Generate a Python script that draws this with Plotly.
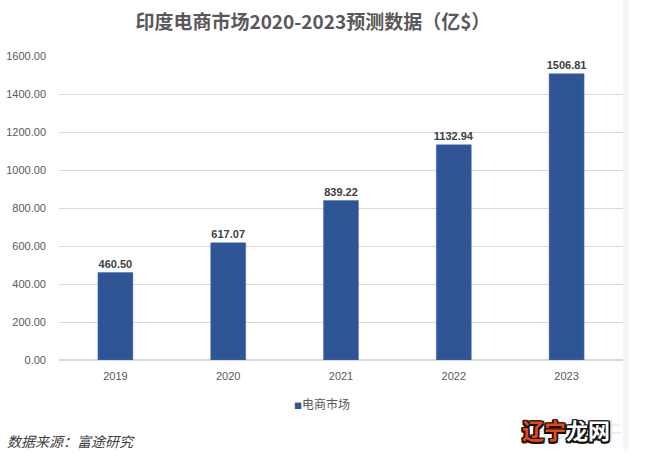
import plotly.graph_objects as go

years = ["2019", "2020", "2021", "2022", "2023"]
values = [460.50, 617.07, 839.22, 1132.94, 1506.81]
series_name = "电商市场"
title_text = "印度电商市场2020-2023预测数据（亿$）"
source_text = "数据来源：富途研究"
watermark_red = "辽宁"
watermark_white = "龙网"
watermark_faint = "富途牛牛"

font_cn = "Noto Sans CJK SC, Microsoft YaHei, sans-serif"
font_num = "Liberation Sans, Arial, sans-serif"
bar_color = "#2F5597"

fig = go.Figure()
fig.add_trace(go.Bar(
    x=years, y=values, name=series_name,
    marker=dict(color=bar_color, line=dict(color="#4a6fae", width=0.5)),
    text=[f"{v:.2f}" for v in values],
    textposition="outside",
    constraintext="none",
    textfont=dict(family=font_num, size=11, color="#404040", weight="bold"),
    cliponaxis=False,
    showlegend=False,
))

fig.update_layout(
    width=656, height=463,
    margin=dict(l=59, r=33, t=55.5, b=103),
    paper_bgcolor="white", plot_bgcolor="white",
    bargap=0.69,
    title=dict(text=title_text, x=0.477, xanchor="center", y=0.952, yanchor="middle",
               font=dict(family=font_cn, size=19, color="#595959", weight="bold")),
    xaxis=dict(showgrid=False, showline=False, ticks="", ticklabelstandoff=8, automargin=False,
               tickfont=dict(family=font_num, size=11, color="#595959")),
    yaxis=dict(range=[0, 1600], dtick=200, tickformat=".2f", showgrid=True, automargin=False,
               gridcolor="#d9d9d9", gridwidth=1, zeroline=True, zerolinecolor="#d9d9d9",
               ticks="", ticklabelstandoff=12,
               tickfont=dict(family=font_num, size=11, color="#595959")),
    showlegend=False,
    font=dict(family=font_cn),
)

# legend (drawn as text so the swatch can sit tight against the label)
fig.add_annotation(
    text=f"<span style='font-size:8px;color:{bar_color}'>■</span>{series_name}",
    xref="paper", yref="paper", x=0.466, xanchor="center", y=-0.1445, yanchor="middle",
    showarrow=False, font=dict(family=font_cn, size=12, color="#595959"))

fig.add_annotation(text=source_text, xref="paper", yref="paper", x=-0.0957, xanchor="left",
                   y=-0.266, yanchor="middle", showarrow=False,
                   font=dict(family=font_cn, size=14, color="#404040", style="italic"))

fig.add_annotation(text=watermark_faint, xref="paper", yref="paper", x=0.92, xanchor="center",
                   y=-0.2266, yanchor="middle", showarrow=False,
                   font=dict(family=font_cn, size=22, color="#e8ecf0"))
fig.add_annotation(
    text=f"<span style='color:#ee4512'>{watermark_red}</span><span style='color:#ffffff'>{watermark_white}</span>",
    xref="paper", yref="paper", x=0.899, xanchor="center",
    y=-0.2266, yanchor="middle", showarrow=False,
    font=dict(family=font_cn, size=22, color="#ee4512", weight="bold",
              shadow="1.5px 1.5px 0 #111, -1.5px -1.5px 0 #111, 1.5px -1.5px 0 #111, -1.5px 1.5px 0 #111, 0 1.5px 0 #111, 0 -1.5px 0 #111, 1.5px 0 0 #111, -1.5px 0 0 #111"))

fig.add_shape(type="rect", xref="paper", yref="paper", x0=1.0, x1=1.01, y0=-0.3, y1=1.22,
              fillcolor="#f5f6f8", line=dict(width=0), layer="below")

fig.write_html("out.html")
